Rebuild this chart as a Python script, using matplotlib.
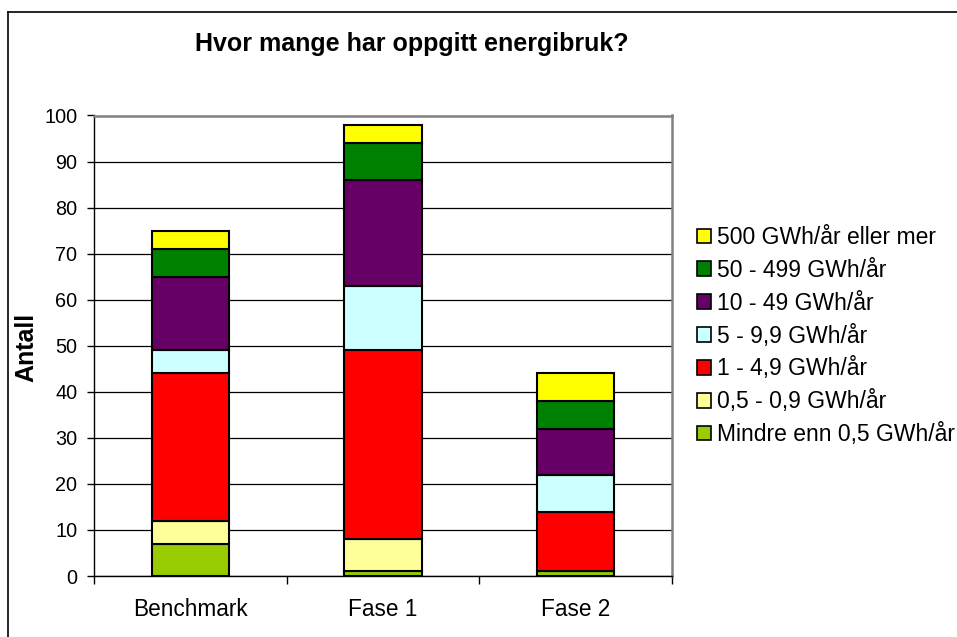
import matplotlib
matplotlib.use("Agg")
import matplotlib.pyplot as plt
from matplotlib.lines import Line2D
from matplotlib.patches import Patch
import numpy as np

plt.rcParams['font.family'] = ['Liberation Sans', 'DejaVu Sans']

categories = ["Benchmark", "Fase 1", "Fase 2"]
series_names = ["Mindre enn 0,5 GWh/år", "0,5 - 0,9 GWh/år", "1 - 4,9 GWh/år",
                "5 - 9,9 GWh/år", "10 - 49 GWh/år", "50 - 499 GWh/år",
                "500 GWh/år eller mer"]
mindre_05 = [7, 1, 1]
v05_09 = [5, 7, 0]
v1_49 = [32, 41, 13]
v5_99 = [5, 14, 8]
v10_49 = [16, 23, 10]
v50_499 = [6, 8, 6]
v500 = [4, 4, 6]
series_values = [mindre_05, v05_09, v1_49, v5_99, v10_49, v50_499, v500]
colors = ["#99CC00", "#FFFF99", "#FF0000", "#CCFFFF", "#660066", "#008000", "#FFFF00"]
yticks = list(range(0, 101, 10))

W, H = 957, 637
fig = plt.figure(figsize=(W / 100, H / 100), dpi=100)
ax = fig.add_axes([94 / W, (H - 576) / H, (672 - 94) / W, (576 - 115.5) / H])

x = np.arange(len(categories))
bottom = np.zeros(len(categories))
for name, vals, c in zip(series_names, series_values, colors):
    vals = np.array(vals, dtype=float)
    ax.bar(x, vals, width=0.4, bottom=bottom, color=c, edgecolor="black",
           linewidth=1.5, label=name, zorder=3)
    bottom += vals

ax.set_xlim(-0.5, 2.5)
ax.set_ylim(0, 100)
ax.set_yticks(yticks)
ax.set_yticklabels([str(t) for t in yticks], fontsize=14.3)
ax.set_xticks(x)
ax.set_xticklabels(categories, fontsize=16.3)
ax.set_xticks([-0.5, 0.5, 1.5, 2.5], minor=True)
ax.tick_params(axis="x", which="major", length=0, pad=16)
ax.tick_params(axis="x", which="minor", length=6, width=1, color="black")
ax.tick_params(axis="y", length=5, width=1, pad=7)
ax.yaxis.grid(True, color="black", linewidth=0.9, zorder=0)
ax.set_axisbelow(True)
for s in ["top", "right"]:
    ax.spines[s].set_color("#808080")
    ax.spines[s].set_linewidth(1.8)
for s in ["left", "bottom"]:
    ax.spines[s].set_color("black")
    ax.spines[s].set_linewidth(1.0)

ax.set_ylabel("Antall", fontsize=18, fontweight="bold")
ax.yaxis.set_label_coords((38 - 94) / (672 - 94), (576 - 347) / (576 - 115.5))

fig.text(412 / W, 1 - 44 / H, "Hvor mange har oppgitt energibruk?", fontsize=18,
         fontweight="bold", ha="center", va="center")

handles = [Patch(facecolor=c, edgecolor="black", linewidth=1.2) for c in colors][::-1]
labels = series_names[::-1]
fig.legend(handles, labels, loc="upper left", bbox_to_anchor=(697 / W, 1 - 226 / H),
           frameon=False, fontsize=16.5, handlelength=0.62, handleheight=0.62,
           handletextpad=0.26, labelspacing=0.43, borderaxespad=0, borderpad=0)

# outer chart frame
fig.add_artist(Line2D([8 / W, 8 / W], [0, 1 - 12 / H], color="black", linewidth=1.2,
                      transform=fig.transFigure))
fig.add_artist(Line2D([8 / W, 1], [1 - 12 / H, 1 - 12 / H], color="black", linewidth=1.2,
                      transform=fig.transFigure))

fig.savefig("out.png", dpi=100)
